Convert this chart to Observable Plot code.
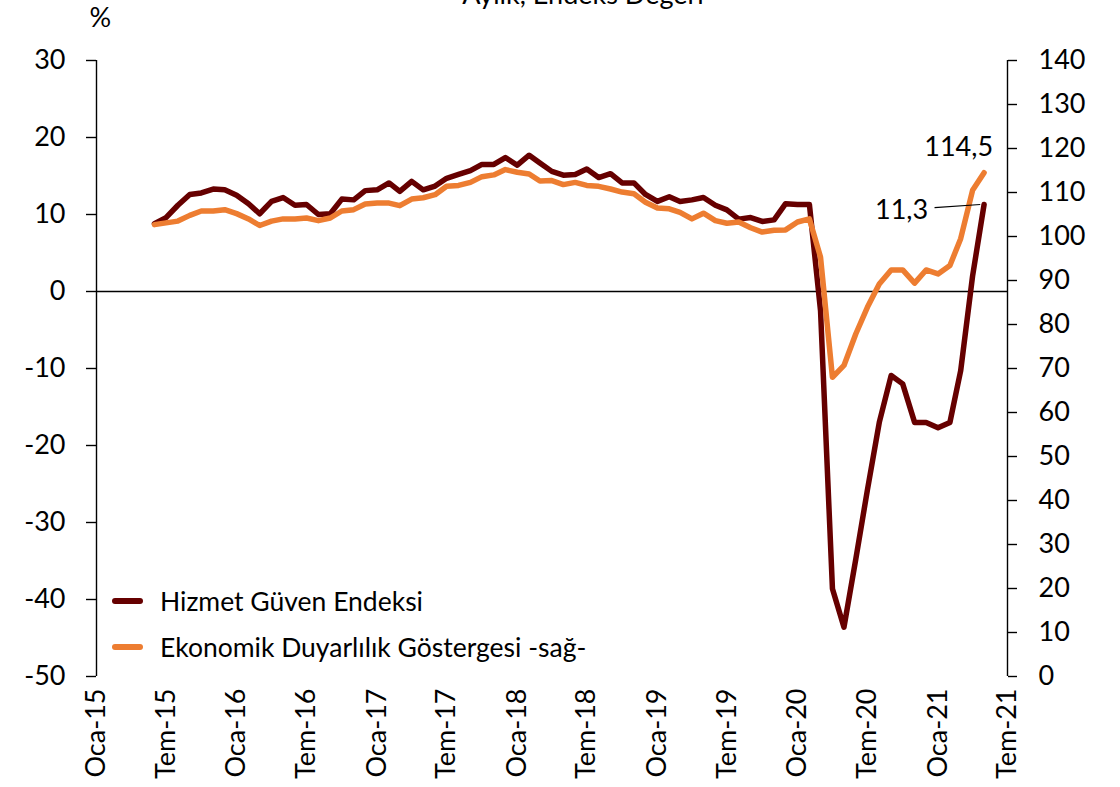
<!DOCTYPE html>
<html>
<head>
<meta charset="utf-8">
<script src="https://cdn.jsdelivr.net/npm/d3@7"></script>
<script src="https://cdn.jsdelivr.net/npm/@observablehq/plot@0.6"></script>
<style>
  html, body { margin: 0; padding: 0; background: #fff; }
  #wrap { position: relative; width: 1120px; height: 787px; overflow: hidden; font-family: Lato, sans-serif; }
  #legend { position: absolute; left: 112px; top: 578px; font-size: 26.5px; color: #000; }
  .row { display: flex; align-items: center; height: 46px; line-height: 46px; white-space: nowrap; }
  .sw { width: 31px; height: 6px; border-radius: 3px; margin-right: 17px; }
</style>
</head>
<body>
<div id="wrap"><div id="legend"></div></div>
<script>
// Months: Jun 2015 .. May 2021
const startMonth = new Date(Date.UTC(2015, 5, 1));
const endMonthExclusive = new Date(Date.UTC(2021, 5, 1));
const months = d3.utcMonth.range(startMonth, endMonthExclusive);

// Hizmet Güven Endeksi (left axis, %)
const hizmet = [
  8.8, 9.6, 11.2, 12.6, 12.8, 13.3, 13.2, 12.5, 11.4, 10.1,
  11.7, 12.2, 11.2, 11.3, 10.0, 10.1, 12.0, 11.9, 13.1, 13.2,
  14.1, 13.0, 14.3, 13.2, 13.7, 14.7, 15.2, 15.7, 16.5, 16.5,
  17.4, 16.4, 17.7, 16.7, 15.6, 15.1, 15.2, 15.9, 14.8, 15.3,
  14.1, 14.1, 12.6, 11.7, 12.3, 11.7, 11.9, 12.2, 11.2, 10.6,
  9.4, 9.6, 9.1, 9.3, 11.4, 11.3, 11.3, -2.5, -38.6, -43.6,
  -34.7, -25.8, -17.0, -10.9, -12.0, -17.0, -17.0, -17.7, -17.0, -10.3,
  2.0, 11.3
];

// Ekonomik Duyarlılık Göstergesi (right axis)
const ekonomik = [
  102.7, 103.1, 103.5, 104.8, 105.8, 105.8, 106.1, 105.2, 104.0, 102.5,
  103.5, 104.0, 104.0, 104.2, 103.6, 104.2, 105.8, 106.1, 107.4, 107.6,
  107.6, 107.0, 108.5, 108.8, 109.5, 111.4, 111.6, 112.3, 113.6, 114.0,
  115.2, 114.6, 114.2, 112.6, 112.7, 111.8, 112.3, 111.6, 111.4, 110.8,
  110.1, 109.7, 107.8, 106.5, 106.3, 105.5, 104.0, 105.3, 103.6, 103.0,
  103.3, 102.0, 101.0, 101.4, 101.5, 103.3, 104.0, 95.3, 68.0, 70.7,
  77.9, 83.9, 89.2, 92.4, 92.4, 89.4, 92.4, 91.5, 93.4, 99.5,
  110.5, 114.5
];

const seriesNames = ["Hizmet Güven Endeksi", "Ekonomik Duyarlılık Göstergesi -sağ-"];
const seriesColors = ["#660000", "#ED7D31"];

const xDomain = [new Date(Date.UTC(2015, 0, 1)), new Date(Date.UTC(2021, 6, 1))];
const xTicks = d3.utcMonth.every(6).range(xDomain[0], d3.utcDay.offset(xDomain[1], 1));
const xTickLabels = ["Oca-15","Tem-15","Oca-16","Tem-16","Oca-17","Tem-17","Oca-18","Tem-18",
                     "Oca-19","Tem-19","Oca-20","Tem-20","Oca-21","Tem-21"];
const xLabelMap = new Map(xTicks.map((d, i) => [+d, xTickLabels[i]]));

const leftDomain = [-50, 30];
const leftTicks = [-50, -40, -30, -20, -10, 0, 10, 20, 30];
const rightDomain = [0, 140];
const rightTicks = [0, 10, 20, 30, 40, 50, 60, 70, 80, 90, 100, 110, 120, 130, 140];

const toLeft = v => leftDomain[0] + (v - rightDomain[0]) * (leftDomain[1] - leftDomain[0]) / (rightDomain[1] - rightDomain[0]);
const fromLeft = v => rightDomain[0] + (v - leftDomain[0]) * (rightDomain[1] - rightDomain[0]) / (leftDomain[1] - leftDomain[0]);

const dataH = months.map((d, i) => ({date: d, value: hizmet[i]}));
const dataE = months.map((d, i) => ({date: d, value: ekonomik[i]}));
const lastH = dataH[dataH.length - 1];
const lastE = dataE[dataE.length - 1];
const fmt = v => String(v).replace(".", ",");

const chart = Plot.plot({
  width: 1120,
  height: 787,
  marginTop: 60,
  marginBottom: 111,
  marginLeft: 96,
  marginRight: 113,
  style: {fontFamily: "Lato, sans-serif", fontSize: "27px", background: "transparent", color: "#000", overflow: "visible"},
  x: {type: "utc", domain: xDomain},
  y: {domain: leftDomain},
  marks: [
    Plot.ruleY([0], {stroke: "#000", strokeWidth: 1.4}),
    Plot.ruleX(xDomain, {y1: leftDomain[0], y2: leftDomain[1], stroke: "#000", strokeWidth: 1.4}),
    Plot.axisY(leftTicks, {anchor: "left", tickSize: 10, tickPadding: 21, tickFormat: d => String(d), label: null, stroke: "#000", strokeWidth: 1.4}),
    Plot.axisY(rightTicks.map(toLeft), {anchor: "right", tickSize: 9, tickPadding: 22, tickFormat: d => String(Math.round(fromLeft(d))), label: null, stroke: "#000", strokeWidth: 1.4}),
    Plot.axisX(xTicks, {anchor: "bottom", tickRotate: -90, tickSize: 0, tickPadding: 12, tickFormat: d => xLabelMap.get(+d), label: null}),
    Plot.lineY(dataH, {x: "date", y: "value", stroke: seriesColors[0], strokeWidth: 5.5, strokeLinejoin: "round", strokeLinecap: "round"}),
    Plot.lineY(dataE, {x: "date", y: d => toLeft(d.value), stroke: seriesColors[1], strokeWidth: 5.5, strokeLinejoin: "round", strokeLinecap: "round"}),
    Plot.link([lastH], {
      x1: d => d3.utcDay.offset(d.date, -129), y1: d => d.value - 0.4,
      x2: d => d3.utcDay.offset(d.date, -10), y2: d => d.value,
      stroke: "#000", strokeWidth: 1.2
    }),
    Plot.text([lastH], {x: "date", y: "value", text: d => fmt(d.value), textAnchor: "end", lineAnchor: "bottom", dx: -56, dy: 15, fontSize: 27}),
    Plot.text([lastE], {x: "date", y: d => toLeft(d.value), text: d => fmt(d.value), textAnchor: "end", lineAnchor: "bottom", dx: 9, dy: -17, fontSize: 27}),
    Plot.text(["%"], {frameAnchor: "top-left", text: d => d, dx: -7, dy: -34, lineAnchor: "bottom", fontSize: 27}),
    Plot.text(["Aylık, Endeks Değeri"], {frameAnchor: "top", text: d => d, dx: 31, dy: -57, lineAnchor: "bottom", fontSize: 27})
  ]
});

const wrap = document.getElementById("wrap");
wrap.insertBefore(chart, wrap.firstChild);

const legend = document.getElementById("legend");
seriesNames.forEach((name, i) => {
  const row = document.createElement("div");
  row.className = "row";
  const sw = document.createElement("div");
  sw.className = "sw";
  sw.style.background = seriesColors[i];
  const t = document.createElement("span");
  t.textContent = name;
  row.appendChild(sw);
  row.appendChild(t);
  legend.appendChild(row);
});
</script>
</body>
</html>
